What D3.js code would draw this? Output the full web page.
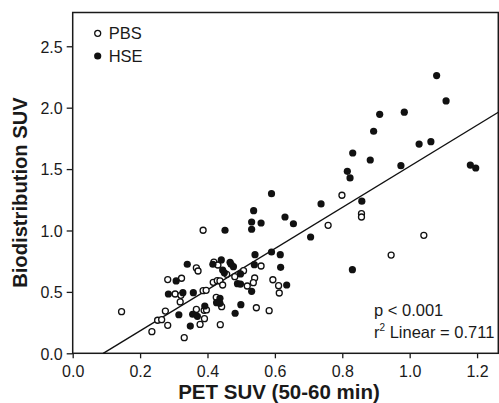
<!DOCTYPE html>
<html>
<head>
<meta charset="utf-8">
<script src="https://cdn.jsdelivr.net/npm/d3@7"></script>
<style>
  body { margin: 0; background: #fff; }
  svg { display: block; font-family: "Liberation Sans", Arial, sans-serif; }
  .tick text { font-size: 16px; fill: #1a1a1a; }
  .tick line { stroke: #1a1a1a; stroke-width: 1.3; }
</style>
</head>
<body>
<div id="chart"></div>
<script>
const width = 499;
const height = 403;

// PET SUV (x) vs biodistribution SUV (y)
const pbsX = [0.145,0.235,0.252,0.264,0.275,0.282,0.282,0.304,0.321,0.323,0.319,0.331,0.367,0.372,0.367,0.378,
  0.387,0.387,0.396,0.390,0.397,0.391,0.419,0.431,0.417,0.429,0.437,0.445,0.426,0.442,0.438,0.457,0.481,
  0.507,0.518,0.540,0.536,0.559,0.594,0.611,0.613,0.545,0.583,0.758,0.799,0.857,0.857,0.945,1.042];
const pbsY = [0.339,0.176,0.269,0.274,0.344,0.600,0.228,0.483,0.472,0.611,0.418,0.127,0.695,0.670,0.357,0.235,
  1.002,0.510,0.513,0.350,0.353,0.282,0.743,0.719,0.578,0.591,0.589,0.556,0.456,0.380,0.233,0.643,0.624,
  0.673,0.548,0.613,0.575,0.711,0.599,0.551,0.491,0.371,0.347,1.042,1.287,1.137,1.110,0.800,0.961];

const hseX = [0.284,0.307,0.327,0.340,0.358,0.315,0.356,0.370,0.349,0.392,0.416,0.441,0.445,0.450,0.452,0.467,
  0.470,0.477,0.437,0.427,0.437,0.482,0.498,0.489,0.498,0.499,0.531,0.539,0.541,0.590,0.616,0.617,0.635,
  0.531,0.531,0.559,0.655,0.630,0.537,0.590,0.706,0.737,0.858,0.830,0.815,0.823,0.831,0.883,0.893,0.911,
  0.984,0.974,1.028,1.063,1.080,1.108,1.180,1.196];
const hseY = [0.483,0.589,0.494,0.725,0.494,0.314,0.318,0.301,0.222,0.385,0.725,0.760,0.678,0.656,1.002,0.741,
  0.725,0.705,0.448,0.412,0.407,0.326,0.646,0.567,0.564,0.396,0.505,0.722,0.803,0.825,0.803,0.700,0.556,
  1.010,1.069,1.061,1.055,1.110,1.161,1.300,0.947,1.216,1.239,0.681,1.482,1.428,1.631,1.574,1.808,1.946,
  1.963,1.528,1.704,1.723,2.261,2.055,1.533,1.509];

// linear fit
const fitSlope = 1.674;
const fitIntercept = -0.1515;

const xTicks = [0.0, 0.2, 0.4, 0.6, 0.8, 1.0, 1.2];
const yTicks = [0.0, 0.5, 1.0, 1.5, 2.0, 2.5];

const margin = {top: 12.5, right: 0.7, bottom: 49.7, left: 72.7};
const w = width - margin.left - margin.right;
const h = height - margin.top - margin.bottom;

const svg = d3.select("#chart").append("svg")
    .attr("width", width)
    .attr("height", height);

const g = svg.append("g")
    .attr("transform", "translate(" + margin.left + "," + margin.top + ")");

const x = d3.scaleLinear().domain([0, 1.263]).range([0, w]);
const y = d3.scaleLinear().domain([0, 2.775]).range([h, 0]);

g.append("g")
    .attr("transform", "translate(0," + h + ")")
    .call(d3.axisBottom(x).tickValues(xTicks).tickFormat(d3.format(".1f")).tickSize(5).tickPadding(7))
    .call(a => a.select(".domain").remove());

g.append("g")
    .call(d3.axisLeft(y).tickValues(yTicks).tickFormat(d3.format(".1f")).tickSize(6).tickPadding(4))
    .call(a => a.select(".domain").remove())
    .selectAll(".tick text").attr("dy", "0.36em");

// frame
g.append("rect")
    .attr("width", w)
    .attr("height", h)
    .attr("fill", "none")
    .attr("stroke", "#1a1a1a")
    .attr("stroke-width", 1.5);

// regression line
const x0 = -fitIntercept / fitSlope;
const x1 = x.domain()[1];
g.append("line")
    .attr("x1", x(x0)).attr("y1", y(fitSlope * x0 + fitIntercept))
    .attr("x2", x(x1)).attr("y2", y(fitSlope * x1 + fitIntercept))
    .attr("stroke", "#111")
    .attr("stroke-width", 1.4);

const pbs = pbsX.map((v, i) => ({x: v, y: pbsY[i]}));
const hse = hseX.map((v, i) => ({x: v, y: hseY[i]}));

g.selectAll(".pbs")
    .data(pbs)
    .enter()
    .append("circle")
    .attr("class", "pbs")
    .attr("cx", d => x(d.x))
    .attr("cy", d => y(d.y))
    .attr("r", 3)
    .attr("fill", "#fff")
    .attr("stroke", "#111")
    .attr("stroke-width", 1.3);

g.selectAll(".hse")
    .data(hse)
    .enter()
    .append("circle")
    .attr("class", "hse")
    .attr("cx", d => x(d.x))
    .attr("cy", d => y(d.y))
    .attr("r", 3.6)
    .attr("fill", "#111");

// legend
const legend = svg.append("g").attr("transform", "translate(97.7,33.3)");
legend.append("circle").attr("r", 3).attr("fill", "#fff").attr("stroke", "#111").attr("stroke-width", 1.3);
legend.append("text").attr("x", 11).attr("y", 6).style("font-size", "16.5px").attr("fill", "#1a1a1a").text("PBS");
legend.append("circle").attr("cy", 22.7).attr("r", 3.6).attr("fill", "#111");
legend.append("text").attr("x", 11).attr("y", 28.7).style("font-size", "16.5px").attr("fill", "#1a1a1a").text("HSE");

// stats
svg.append("text")
    .attr("x", 374).attr("y", 316)
    .style("font-size", "16.5px").attr("fill", "#1a1a1a")
    .text("p < 0.001");
const r2 = svg.append("text")
    .attr("x", 374).attr("y", 337.5)
    .style("font-size", "16.5px").attr("fill", "#1a1a1a");
r2.append("tspan").text("r");
r2.append("tspan").attr("dy", -6.5).style("font-size", "10px").text("2");
r2.append("tspan").attr("dy", 6.5).text(" Linear = 0.711");

// axis titles
svg.append("text")
    .attr("x", 279).attr("y", 398.5)
    .attr("text-anchor", "middle")
    .style("font-size", "20.5px").style("font-weight", "bold").attr("fill", "#1a1a1a")
    .text("PET SUV (50-60 min)");

svg.append("text")
    .attr("transform", "translate(27.3,192.5) rotate(-90)")
    .attr("text-anchor", "middle")
    .style("font-size", "20.2px").style("font-weight", "bold").attr("fill", "#1a1a1a")
    .text("Biodistribution SUV");
</script>
</body>
</html>
